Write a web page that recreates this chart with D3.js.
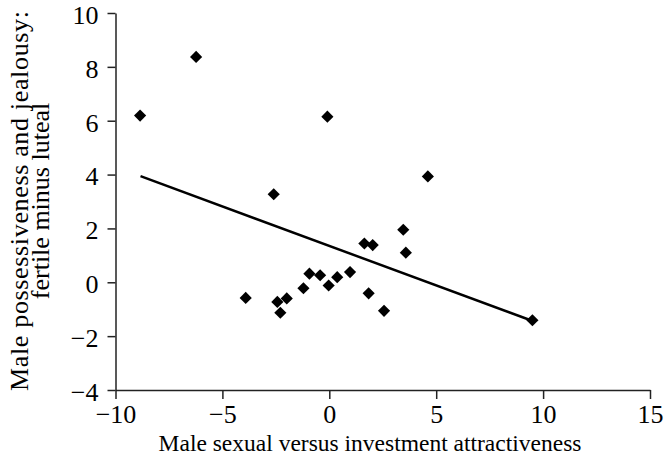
<!DOCTYPE html>
<meta charset="utf-8">
<style>
    body { margin: 0; background: #fff; }
    svg text { fill: #000; }
    .axis path, .axis line { stroke: #222; stroke-width: 1.5; }
    path.fit { fill: none; stroke: #000; stroke-width: 2.5; }
</style>
<body>
<div id="main"></div>
<script src="https://cdn.jsdelivr.net/npm/d3@7/dist/d3.min.js"></script>
<script>
// attractiveness (x) vs possessiveness change (y)
var xVals = [-8.85, -6.23, -0.09, -2.6, -3.91, -2.43, -1.99, -2.29, -1.21, -0.93, -0.43, -0.03,
             0.37, 0.97, 1.64, 2.03, 1.84, 2.56, 4.61, 3.46, 3.58, 9.5];
var yVals = [6.19, 8.37, 6.15, 3.27, -0.58, -0.73, -0.6, -1.13, -0.22, 0.32, 0.26, -0.12,
             0.19, 0.38, 1.44, 1.38, -0.41, -1.06, 3.93, 1.95, 1.1, -1.41];
// fitted line end points
var fitX = [-8.83, 9.45];
var fitY = [3.94, -1.42];
var xTicks = [-10, -5, 0, 5, 10, 15];
var yTicks = [-4, -2, 0, 2, 4, 6, 8, 10];

var W = 665, H = 460;
var FONT = "Liberation Serif";
var margin = {top: 13, right: 15, bottom: 70, left: 115.5};

var svg = d3.select("#main").append("svg")
    .attr("width", W).attr("height", H);

var x = d3.scaleLinear().domain([-10, 15]).range([margin.left, W - margin.right]);
var y = d3.scaleLinear().domain([-4, 10]).range([H - margin.bottom, margin.top]);

var xAxis = d3.axisBottom(x).tickValues(xTicks).tickSize(9).tickPadding(6).tickSizeOuter(0);
var yAxis = d3.axisLeft(y).tickValues(yTicks).tickSize(8).tickPadding(9).tickSizeOuter(0);

svg.append("g").attr("class", "x axis")
    .attr("transform", "translate(0," + y(-4) + ")")
    .call(xAxis);
svg.append("g").attr("class", "y axis")
    .attr("transform", "translate(" + x(-10) + ",0)")
    .call(yAxis);
svg.selectAll(".axis").attr("font-family", FONT).attr("font-size", 26);
svg.selectAll(".y.axis text").attr("dy", "0.4em");

svg.append("path").attr("class", "fit")
    .attr("d", d3.line().x(function(d, i) { return x(fitX[i]); })
                        .y(function(d, i) { return y(fitY[i]); })(fitX));

var sym = d3.symbol().type(d3.symbolSquare).size(74);
svg.selectAll("path.pt").data(xVals).enter().append("path")
    .attr("class", "pt")
    .attr("d", sym)
    .attr("fill", "#000")
    .attr("transform", function(d, i) {
        return "translate(" + x(d) + "," + y(yVals[i]) + ") rotate(45)";
    });

svg.append("text")
    .attr("font-family", FONT).attr("font-size", 23.5)
    .attr("x", 370).attr("y", 451)
    .attr("text-anchor", "middle")
    .text("Male sexual versus investment attractiveness");

var yt = svg.append("text")
    .attr("font-family", FONT).attr("font-size", 26)
    .attr("transform", "translate(28," + 201 + ") rotate(-90)")
    .attr("text-anchor", "middle");
yt.append("tspan").attr("x", 0).attr("dy", 0)
    .attr("textLength", 380).attr("lengthAdjust", "spacing")
    .text("Male possessiveness and jealousy:");
yt.append("tspan").attr("x", 0).attr("dy", 21).text("fertile minus luteal");
</script>
</body>
